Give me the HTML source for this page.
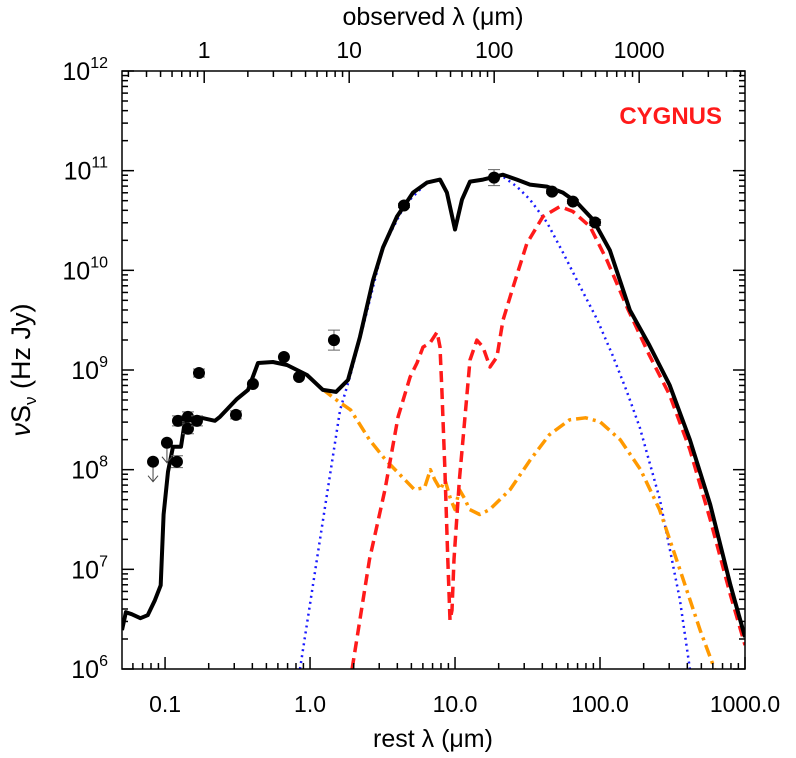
<!DOCTYPE html>
<html><head><meta charset="utf-8"><style>
body{margin:0;background:#fff}
svg{display:block;font-family:"Liberation Sans",sans-serif}
</style></head><body>
<svg id="chart" width="796" height="758"></svg>
<script>
const restTicks = [0.1, 1, 10, 100, 1000];
const restTickLabels = ["0.1","1.0","10.0","100.0","1000.0"];
const obsTicks = [1, 10, 100, 1000];
const obsTickLabels = ["1","10","100","1000"];
const yTicks = [6,7,8,9,10,11,12];
const redshiftLog = 0.73;
// photometry (log rest lambda, log nuSnu)
const photX = [-1.083,-0.987,-0.918,-0.911,-0.842,-0.842,-0.780,-0.766,-0.511,-0.394,-0.180,-0.076,0.165,0.648,1.269,1.669,1.813,1.966];
const photY = [8.08,8.27,8.08,8.49,8.53,8.41,8.49,8.97,8.55,8.86,9.13,8.93,9.30,10.65,10.93,10.79,10.69,10.48];
const photErr = [0,0,0.06,0.05,0.05,0.05,0.05,0.04,0.04,0,0,0,0.1,0.02,0.08,0.02,0.02,0.03];
const photLimit = [1,1,0,0,0,0,0,0,0,0,0,0,0,0,0,0,0,0];
const totalX = [-1.297,-1.27,-1.23,-1.17,-1.12,-1.07,-1.03,-1.01,-0.98,-0.945,-0.89,-0.862,-0.78,-0.656,-0.621,-0.504,-0.428,-0.359,-0.256,-0.159,-0.021,0.089,0.179,0.262,0.344,0.434,0.503,0.600,0.655,0.710,0.806,0.896,0.944,1.0,1.048,1.103,1.193,1.331,1.427,1.517,1.634,1.744,1.841,1.951,2.068,2.206,2.34,2.48,2.62,2.76,2.90,3.0];
const totalY = [6.39,6.57,6.55,6.51,6.54,6.69,6.84,7.55,7.98,8.23,8.23,8.50,8.53,8.49,8.53,8.71,8.80,9.07,9.08,9.05,8.95,8.80,8.78,8.90,9.33,9.90,10.23,10.54,10.66,10.78,10.88,10.91,10.78,10.41,10.71,10.89,10.91,10.96,10.91,10.86,10.84,10.78,10.68,10.51,10.20,9.60,9.25,8.85,8.30,7.65,6.84,6.32];
const blueX = [-0.069,0.069,0.207,0.275,0.365,0.503,0.655,0.806,0.896,0.944,1.0,1.048,1.103,1.331,1.427,1.517,1.634,1.744,1.862,1.979,2.089,2.186,2.275,2.413,2.55,2.62];
const blueY = [6.0,7.3,8.6,8.93,9.43,10.23,10.66,10.88,10.91,10.78,10.41,10.71,10.89,10.94,10.84,10.71,10.48,10.18,9.84,9.51,9.14,8.78,8.42,7.70,6.70,6.0];
const redX = [0.29,0.41,0.517,0.607,0.69,0.738,0.779,0.827,0.876,0.896,0.91,0.917,0.93,0.95,0.965,0.979,0.993,1.03,1.069,1.103,1.151,1.193,1.241,1.289,1.331,1.4,1.496,1.607,1.724,1.813,1.931,2.048,2.186,2.34,2.48,2.62,2.76,2.90,3.0];
const redY = [6.0,7.1,7.8,8.53,8.93,9.07,9.23,9.27,9.38,9.23,8.77,8.5,8.0,7.1,6.49,6.59,7.1,7.9,8.53,9.10,9.30,9.23,9.03,9.13,9.50,9.83,10.27,10.54,10.64,10.59,10.44,10.10,9.63,9.15,8.75,8.20,7.50,6.74,6.24];
const orangeX = [0.083,0.20,0.28,0.41,0.52,0.62,0.72,0.79,0.83,0.86,0.90,0.93,0.97,1.0,1.03,1.07,1.10,1.17,1.24,1.38,1.52,1.65,1.79,1.90,2.0,2.14,2.28,2.41,2.55,2.69,2.79];
const orangeY = [8.81,8.68,8.6,8.3,8.1,7.95,7.8,7.82,8.0,7.9,7.8,7.9,7.7,7.6,7.8,7.7,7.6,7.55,7.6,7.8,8.1,8.35,8.5,8.52,8.48,8.3,8.0,7.6,7.0,6.39,6.0];

const L=122,R=745,T=71,B=669, X0=-1.297, X1=3, Y0=6, Y1=12;
const sx=v=>L+(v-X0)/(X1-X0)*(R-L);
const sy=v=>B-(v-Y0)/(Y1-Y0)*(B-T);
const NS="http://www.w3.org/2000/svg";
const svg=document.getElementById('chart');
function mk(tag,attrs,parent){const e=document.createElementNS(NS,tag);for(const k in attrs)e.setAttribute(k,attrs[k]);(parent||svg).appendChild(e);return e;}
const defs=mk('defs',{});
const cp=mk('clipPath',{id:'clip'},defs);mk('rect',{x:L,y:T,width:R-L,height:B-T},cp);
const plot=mk('g',{'clip-path':'url(#clip)'});


function line(xs,ys,stroke,w,dash,name){
  const d=xs.map((x,i)=>(i?'L':'M')+sx(x).toFixed(1)+' '+sy(ys[i]).toFixed(1)).join(' ');
  const p=mk('path',{d,fill:'none',stroke,'stroke-width':w,'stroke-dasharray':dash,'stroke-linejoin':'round'},plot);
  
  
}
line(blueX,blueY,'#1a1aff',2.5,'2 4','agn-torus-curve');
line(orangeX,orangeY,'#ff9900',3.5,'12 5 3 5','stellar-component-curve');
line(redX,redY,'#ff1a1a',3.5,'11 6','starburst-curve');
line(totalX,totalY,'#000',4,'none','total-sed-curve');
photX.forEach((x,i)=>{
  const g=mk('g',{},plot);
  
  
  const cx=sx(x),cy=sy(photY[i]);
  if(photErr[i]>0){
    const y1=sy(photY[i]+photErr[i]),y2=sy(photY[i]-photErr[i]);
    mk('path',{d:`M${cx} ${y1}V${y2}M${cx-6} ${y1}H${cx+6}M${cx-6} ${y2}H${cx+6}`,stroke:'#666','stroke-width':1},g);
  }
  if(photLimit[i]){
    mk('path',{d:`M${cx} ${cy}V${cy+20}M${cx-5} ${cy+14}L${cx} ${cy+20}L${cx+5} ${cy+14}`,stroke:'#444','stroke-width':1,fill:'none'},g);
  }
  mk('circle',{cx,cy,r:6,fill:'#000'},g);
});
const fr=mk('rect',{x:L,y:T,width:R-L,height:B-T,fill:'none',stroke:'#000','stroke-width':1.5});


const ax=mk('g',{stroke:'#000','stroke-width':1.5});


for(let d=-2;d<=3;d++)for(let m=1;m<10;m++){
  const v=d+Math.log10(m);if(v<X0||v>X1)continue;const x=sx(v),len=m==1?12:6;
  mk('line',{x1:x,x2:x,y1:B,y2:B-len},ax);
}
for(let d=-1;d<=4;d++)for(let m=1;m<10;m++){
  const v=d+Math.log10(m)-redshiftLog;if(v<X0||v>X1)continue;const x=sx(v),len=m==1?12:6;
  mk('line',{x1:x,x2:x,y1:T,y2:T+len},ax);
}
for(let d=6;d<=12;d++)for(let m=1;m<10;m++){
  const v=d+Math.log10(m);if(v>Y1)continue;const y=sy(v),len=m==1?12:6;
  mk('line',{x1:L,x2:L+len,y1:y,y2:y},ax);mk('line',{x1:R,x2:R-len,y1:y,y2:y},ax);
}
function txt(s,x,y,size,anchor,name,extra){const t=mk('text',Object.assign({x,y,'font-size':size,'text-anchor':anchor||'middle',fill:'#000'},extra||{}));t.textContent=s;return t;}
restTicks.forEach((v,i)=>txt(restTickLabels[i],sx(Math.log10(v)),712,23,'middle','x-tick-label'));
obsTicks.forEach((v,i)=>txt(obsTickLabels[i],sx(Math.log10(v)-redshiftLog),58,23,'middle','top-x-tick-label'));
yTicks.forEach(v=>{
  const t=txt('10',108,sy(v)+9,25,'end','y-tick-label');
  const s=mk('tspan',{'font-size':16,dy:-12},t);s.textContent=String(v);
});
txt('rest λ (μm)',433,747,25,'middle','x-axis-title');
txt('observed λ (μm)',433,25,25,'middle','top-x-axis-title');
const yt=txt('',30,370,27,'middle','y-axis-title',{transform:'rotate(-90 30 370)'});
yt.innerHTML='<tspan font-style="italic">ν</tspan>S<tspan font-size="17" dy="6">ν</tspan><tspan dy="-6"> (Hz Jy)</tspan>';
txt('CYGNUS',722,124,24,'end','dataset-label',{fill:'#ff1a1a','font-weight':'bold'});
</script>
</body></html>
